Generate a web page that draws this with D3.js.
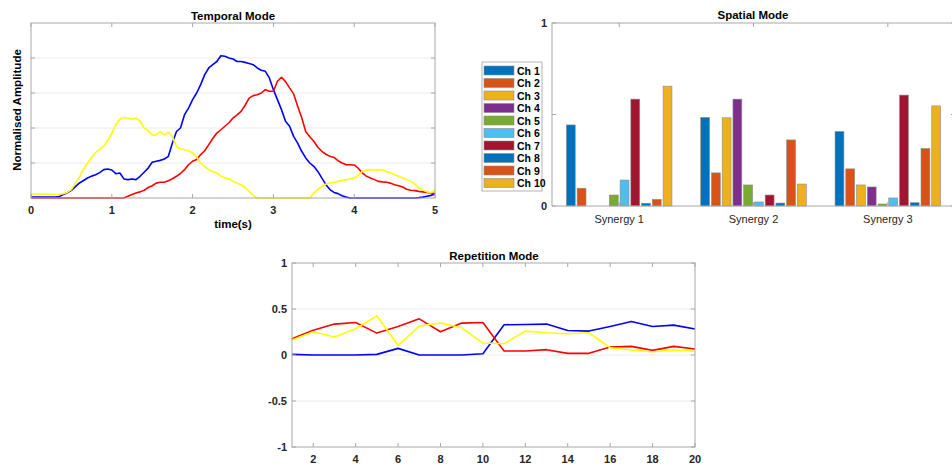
<!DOCTYPE html>
<html>
<head>
<meta charset="utf-8">
<script src="https://cdn.jsdelivr.net/npm/d3@7"></script>
<style>
  html, body { margin: 0; padding: 0; background: #fff; }
  svg { display: block; font-family: "Liberation Sans", Arial, Helvetica, sans-serif; }
  .tick-label { font-size: 11px; font-weight: bold; fill: #262626; }
  .title { font-size: 11.5px; font-weight: bold; fill: #000; }
</style>
</head>
<body>
<svg id="fig" width="952" height="468"></svg>
<script>
// ---------- Temporal mode (activation profiles over time) ----------
const temporalTime = [0,0.05,0.1,0.15,0.2,0.25,0.3,0.35,0.4,0.45,0.5,0.55,0.6,0.65,0.7,0.75,0.8,0.85,0.9,0.95,
  1.0,1.05,1.1,1.15,1.2,1.25,1.3,1.35,1.4,1.45,1.5,1.55,1.6,1.65,1.7,1.75,1.8,1.85,1.9,1.95,
  2.0,2.05,2.1,2.15,2.2,2.25,2.3,2.35,2.4,2.45,2.5,2.55,2.6,2.65,2.7,2.75,2.8,2.85,2.9,2.95,
  3.0,3.05,3.1,3.15,3.2,3.25,3.3,3.35,3.4,3.45,3.5,3.55,3.6,3.65,3.7,3.75,3.8,3.85,3.9,3.95,
  4.0,4.05,4.1,4.15,4.2,4.25,4.3,4.35,4.4,4.45,4.5,4.55,4.6,4.65,4.7,4.75,4.8,4.85,4.9,4.95,5.0];
const temporalBlue = [0.006,0.006,0.006,0.006,0.006,0.006,0.006,0.008,0.02,0.03,0.044,0.065,0.086,0.1,0.114,0.125,0.133,0.145,0.162,0.166,
  0.16,0.139,0.143,0.109,0.105,0.109,0.105,0.124,0.147,0.171,0.204,0.21,0.215,0.223,0.238,0.314,0.38,0.4,0.476,0.514,
  0.562,0.6,0.648,0.705,0.743,0.762,0.78,0.813,0.81,0.8,0.794,0.78,0.78,0.775,0.768,0.762,0.743,0.73,0.724,0.686,
  0.619,0.562,0.505,0.438,0.41,0.352,0.314,0.267,0.229,0.2,0.181,0.152,0.114,0.076,0.048,0.032,0.025,0.013,0.005,0,
  0,0,0,0,0,0,0,0,0,0,0,0,0,0,0,0,0.002,0.005,0.01,0.015,0.023];
const temporalRed = [0,0,0,0,0,0,0,0,0,0,0,0,0,0,0,0,0,0,0,0,
  0,0,0,0,0.01,0.02,0.028,0.035,0.044,0.06,0.07,0.085,0.09,0.09,0.099,0.11,0.124,0.14,0.162,0.19,
  0.21,0.22,0.248,0.27,0.305,0.34,0.371,0.39,0.41,0.43,0.457,0.475,0.495,0.53,0.571,0.585,0.59,0.6,0.619,0.61,
  0.61,0.667,0.69,0.665,0.629,0.595,0.524,0.46,0.38,0.35,0.324,0.29,0.267,0.25,0.238,0.232,0.213,0.2,0.19,0.19,
  0.189,0.17,0.143,0.125,0.114,0.105,0.095,0.092,0.09,0.085,0.076,0.07,0.063,0.05,0.044,0.042,0.038,0.035,0.032,0.028,0.025];
const temporalYellow = [0.023,0.023,0.022,0.022,0.021,0.021,0.02,0.021,0.025,0.032,0.048,0.085,0.12,0.165,0.2,0.23,0.26,0.28,0.295,0.33,
  0.37,0.42,0.45,0.46,0.457,0.45,0.457,0.44,0.40,0.385,0.36,0.36,0.38,0.36,0.375,0.35,0.295,0.28,0.276,0.27,
  0.257,0.235,0.2,0.18,0.162,0.15,0.143,0.125,0.114,0.11,0.095,0.085,0.076,0.06,0.038,0.015,0,0,0,0,
  0,0,0,0,0,0,0,0,0,0,0.028,0.05,0.067,0.08,0.086,0.09,0.095,0.1,0.105,0.108,
  0.114,0.13,0.152,0.16,0.162,0.16,0.162,0.16,0.152,0.145,0.133,0.125,0.114,0.105,0.095,0.08,0.057,0.045,0.035,0.03,0.044];
const temporalXTicks = [0,1,2,3,4,5];
const temporalYTicks = [0.2,0.4,0.6,0.8];

// ---------- Spatial mode (channel weights per synergy) ----------
const synergies = ["Synergy 1","Synergy 2","Synergy 3"];
const channels = ["Ch 1","Ch 2","Ch 3","Ch 4","Ch 5","Ch 6","Ch 7","Ch 8","Ch 9","Ch 10"];
const channelColors = ["#0072BD","#D95319","#EDB120","#7E2F8E","#77AC30","#4DBEEE","#A2142F","#0072BD","#D95319","#EDB120"];
const weightsSynergy1 = [0.443,0.097,0,0,0.06,0.142,0.584,0.015,0.036,0.655];
const weightsSynergy2 = [0.484,0.181,0.482,0.584,0.115,0.022,0.06,0.016,0.361,0.12];
const weightsSynergy3 = [0.407,0.203,0.115,0.104,0.011,0.044,0.606,0.018,0.314,0.547];
const spatialYTicks = [0,0.5,1];
const spatialYLabels = ["0","","1"];

// ---------- Repetition mode (coefficient per repetition) ----------
const repetitions = [1,2,3,4,5,6,7,8,9,10,11,12,13,14,15,16,17,18,19,20];
const repBlue = [0.007,0,0,0,0.007,0.072,0,0,0,0.014,0.329,0.332,0.336,0.267,0.26,0.31,0.365,0.31,0.325,0.282];
const repRed = [0.177,0.27,0.336,0.354,0.238,0.31,0.393,0.253,0.347,0.354,0.043,0.043,0.058,0.018,0.018,0.087,0.094,0.05,0.094,0.065];
const repYellow = [0.162,0.253,0.195,0.285,0.426,0.105,0.314,0.347,0.296,0.13,0.123,0.26,0.242,0.231,0.242,0.079,0.054,0.036,0.054,0.04];
const repXTicks = [2,4,6,8,10,12,14,16,18,20];
const repYTicks = [-1,-0.5,0,0.5,1];
const repYLabels = ["-1","-0.5","0","0.5","1"];

const svg = d3.select("#fig");
const boxColor = "#a8a8a8";
const gridColor = "#ebebeb";
const TL = 4; // tick length

function frame(g, x, y) {
  const [x0, x1] = x.range(), [y0, y1] = y.range();
  g.append("rect").attr("x", x0).attr("y", y1).attr("width", x1 - x0).attr("height", y0 - y1)
    .attr("fill", "none").attr("stroke", boxColor).attr("stroke-width", 1);
}
function yGrid(g, x, y, ticks) {
  const [x0, x1] = x.range();
  g.selectAll(null).data(ticks).join("line")
    .attr("x1", x0).attr("x2", x1).attr("y1", d => y(d)).attr("y2", d => y(d))
    .attr("stroke", gridColor).attr("stroke-width", 1);
}
function yTicks(g, x, y, ticks, labels) {
  const [x0, x1] = x.range();
  g.selectAll(null).data(ticks).join("line")
    .attr("x1", x0).attr("x2", x0 + TL).attr("y1", d => y(d)).attr("y2", d => y(d))
    .attr("stroke", boxColor);
  g.selectAll(null).data(ticks).join("line")
    .attr("x1", x1).attr("x2", x1 - TL).attr("y1", d => y(d)).attr("y2", d => y(d))
    .attr("stroke", boxColor);
  if (labels) {
    g.selectAll(null).data(ticks).join("text").attr("class", "tick-label")
      .attr("x", x0 - 5).attr("y", d => y(d) + 4).attr("text-anchor", "end")
      .text((d, i) => labels[i]);
  }
}
function xTicks(g, x, y, ticks, labels, labelY) {
  const [y0, y1] = y.range();
  g.selectAll(null).data(ticks).join("line")
    .attr("x1", d => x(d)).attr("x2", d => x(d)).attr("y1", y0).attr("y2", y0 - TL)
    .attr("stroke", boxColor);
  g.selectAll(null).data(ticks).join("line")
    .attr("x1", d => x(d)).attr("x2", d => x(d)).attr("y1", y1).attr("y2", y1 + TL)
    .attr("stroke", boxColor);
  if (labels) {
    g.selectAll(null).data(ticks).join("text").attr("class", "tick-label")
      .attr("x", d => x(d)).attr("y", labelY).attr("text-anchor", "middle")
      .text((d, i) => labels[i]);
  }
}
function title(g, x, yPos, text) {
  g.append("text").attr("class", "title").attr("x", x).attr("y", yPos)
    .attr("text-anchor", "middle").text(text);
}

// ===== Temporal Mode =====
{
  const g = svg.append("g");
  const x = d3.scaleLinear().domain([0, 5]).range([31, 435]);
  const y = d3.scaleLinear().domain([0, 1]).range([198, 23]);
  yGrid(g, x, y, temporalYTicks);
  const line = d3.line().x((d, i) => x(temporalTime[i])).y(d => y(d));
  [[temporalBlue, "#0000ff"], [temporalRed, "#ff0000"], [temporalYellow, "#ffff00"]].forEach(([vals, c]) => {
    g.append("path").datum(vals).attr("d", line).attr("fill", "none")
      .attr("stroke", c).attr("stroke-width", 1.6).attr("stroke-linejoin", "round");
  });
  frame(g, x, y);
  yTicks(g, x, y, temporalYTicks, null);
  xTicks(g, x, y, temporalXTicks, temporalXTicks.map(String), 214);
  title(g, 233, 20, "Temporal Mode");
  g.append("text").attr("class", "title").attr("x", 233).attr("y", 228)
    .attr("text-anchor", "middle").text("time(s)");
  g.append("text").attr("class", "title")
    .attr("transform", "translate(21,110) rotate(-90)")
    .attr("text-anchor", "middle").text("Normalised Amplitude");
}

// ===== Spatial Mode =====
{
  const g = svg.append("g");
  const x = d3.scaleLinear().domain([0.5, 3.5]).range([552, 955]);
  const y = d3.scaleLinear().domain([0, 1]).range([206, 23]);
  const groups = [weightsSynergy1, weightsSynergy2, weightsSynergy3];
  const step = 0.08, bw = 0.066;
  groups.forEach((vals, gi) => {
    g.selectAll(null).data(vals).join("rect")
      .attr("x", (d, i) => x(gi + 1 + (i - 4.5) * step - bw / 2))
      .attr("width", x(bw) - x(0))
      .attr("y", d => y(d))
      .attr("height", d => y(0) - y(d))
      .attr("fill", (d, i) => channelColors[i])
      .attr("stroke", "#8c8c8c").attr("stroke-width", 0.6);
  });
  frame(g, x, y);
  yTicks(g, x, y, spatialYTicks, spatialYLabels);
  const sx = [1, 2, 3];
  g.selectAll(null).data(sx).join("line")
    .attr("x1", d => x(d)).attr("x2", d => x(d)).attr("y1", y(0)).attr("y2", y(0) - TL).attr("stroke", boxColor);
  g.selectAll(null).data(sx).join("line")
    .attr("x1", d => x(d)).attr("x2", d => x(d)).attr("y1", y(1)).attr("y2", y(1) + TL).attr("stroke", boxColor);
  g.selectAll(null).data(synergies).join("text")
    .attr("x", (d, i) => x(i + 1)).attr("y", 223).attr("text-anchor", "middle")
    .attr("font-size", 11).attr("fill", "#262626").text(d => d);
  title(g, 753, 19, "Spatial Mode");

  // legend
  const lg = svg.append("g");
  lg.append("rect").attr("x", 482).attr("y", 62).attr("width", 60).attr("height", 129)
    .attr("fill", "#fff").attr("stroke", "#a0a0a0").attr("stroke-width", 0.8);
  channels.forEach((c, i) => {
    const cy = 70.5 + i * 12.5;
    lg.append("rect").attr("x", 484).attr("y", cy - 4.5).attr("width", 30).attr("height", 9)
      .attr("fill", channelColors[i]).attr("stroke", "#8c8c8c").attr("stroke-width", 0.6);
    lg.append("text").attr("x", 517).attr("y", cy + 4).attr("font-size", 10.5)
      .attr("font-weight", "bold").attr("fill", "#000").text(c);
  });
}

// ===== Repetition Mode =====
{
  const g = svg.append("g");
  const x = d3.scaleLinear().domain([1, 20]).range([292, 695]);
  const y = d3.scaleLinear().domain([-1, 1]).range([447, 263]);
  yGrid(g, x, y, [-0.5, 0, 0.5]);
  const line = d3.line().x((d, i) => x(repetitions[i])).y(d => y(d));
  [[repBlue, "#0000ff"], [repRed, "#ff0000"], [repYellow, "#ffff00"]].forEach(([vals, c]) => {
    g.append("path").datum(vals).attr("d", line).attr("fill", "none")
      .attr("stroke", c).attr("stroke-width", 1.6).attr("stroke-linejoin", "round");
  });
  frame(g, x, y);
  yTicks(g, x, y, repYTicks, repYLabels);
  xTicks(g, x, y, repXTicks, repXTicks.map(String), 463);
  title(g, 494, 260, "Repetition Mode");
}
</script>
</body>
</html>
